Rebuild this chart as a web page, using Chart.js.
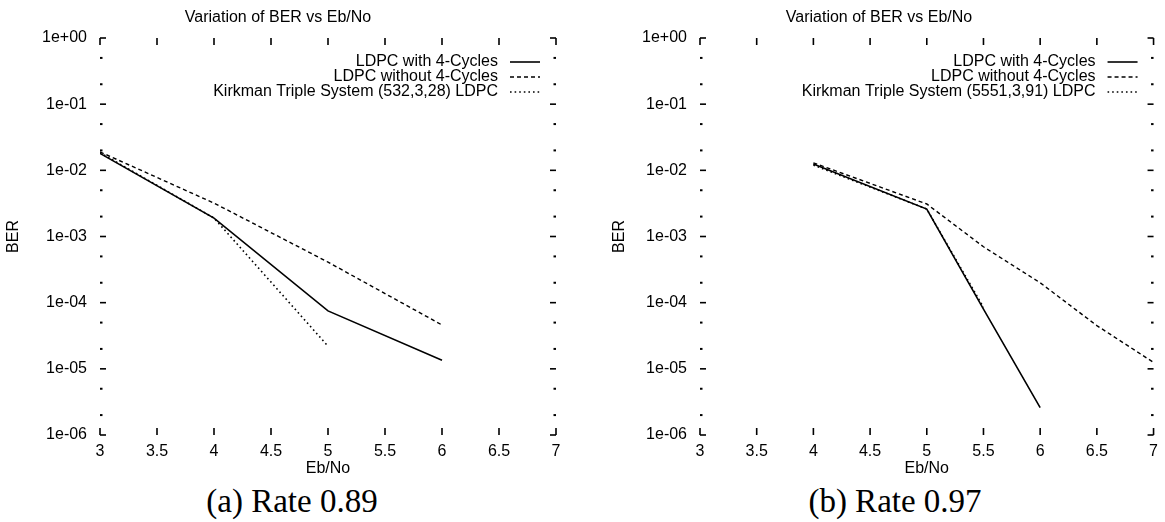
<!DOCTYPE html>
<html><head><meta charset="utf-8">
<script src="https://cdn.jsdelivr.net/npm/chart.js@4.4.0/dist/chart.umd.min.js"></script>
<style>
html,body{margin:0;padding:0;background:#fff;}
body{width:1165px;height:522px;position:relative;overflow:hidden;}
canvas{position:absolute;top:0;}
#cA{left:0;} #cB{left:600px;}
.cap{position:absolute;top:484px;font-family:"Liberation Serif",serif;font-size:33px;line-height:34px;text-align:center;color:#000;white-space:nowrap;}
</style></head><body>
<canvas id="cA" width="582" height="480"></canvas>
<canvas id="cB" width="565" height="480"></canvas>
<div class="cap" style="left:0;width:584px">(a) Rate 0.89</div>
<div class="cap" style="left:620px;width:550px">(b) Rate 0.97</div>
<script>
const chartTitle = 'Variation of BER vs Eb/No';
const xAxisLabel = 'Eb/No';
const yAxisLabel = 'BER';
const withLabel = 'LDPC with 4-Cycles';
const withoutLabel = 'LDPC without 4-Cycles';
const kirkmanLabelA = 'Kirkman Triple System (532,3,28) LDPC';
const kirkmanLabelB = 'Kirkman Triple System (5551,3,91) LDPC';
const yTickValues = [1, 1e-1, 1e-2, 1e-3, 1e-4, 1e-5, 1e-6];
const yMinorMultipliers = [2, 5];
const xMin = 3, xMax = 7, xStep = 0.5;

// (a) Rate 0.89
const ebnoA = [3, 4, 5, 6];
const withCyclesA = [1.8e-2, 1.9e-3, 7.5e-5, 1.35e-5];
const withoutCyclesA = [1.9e-2, 3.2e-3, 4.1e-4, 4.6e-5];
const kirkmanA = [1.85e-2, 1.9e-3, 2.2e-5, null];

// (b) Rate 0.97
const ebnoB = [4, 5, 5.5, 6, 6.5, 7];
const withCyclesB = [1.25e-2, 2.6e-3, 8.0e-5, 2.6e-6, null, null];
const withoutCyclesB = [1.3e-2, 3.1e-3, 7.0e-4, 2.0e-4, 4.5e-5, 1.25e-5];
const kirkmanB = [1.2e-2, 2.6e-3, 8.5e-5, null, null, null];

const FONT = '"Liberation Sans", Arial, sans-serif';

function fmtExp(v) {
  const e = Math.round(Math.log10(v));
  return '1e' + (e < 0 ? '-' : '+') + String(Math.abs(e)).padStart(2, '0');
}
function pts(xs, ys) {
  return xs.map((x, i) => ({x: x, y: ys[i]})).filter(p => p.y !== null);
}

const frameTicks = {
  id: 'frameTicks',
  afterDraw(chart) {
    const {ctx, chartArea: a, scales: {x, y}} = chart;
    ctx.save();
    ctx.strokeStyle = '#000';
    ctx.lineWidth = 1.6;
    const seg = (x1, y1, x2, y2) => { ctx.beginPath(); ctx.moveTo(x1, y1); ctx.lineTo(x2, y2); ctx.stroke(); };
    x.ticks.forEach(t => {
      const p = x.getPixelForValue(t.value);
      seg(p, a.bottom, p, a.bottom - 7);
      seg(p, a.top, p, a.top + 7);
    });
    y.ticks.forEach(t => {
      const p = y.getPixelForValue(t.value);
      seg(a.left, p, a.left + 6, p);
      seg(a.right, p, a.right - 6, p);
    });
    ctx.lineWidth = 2;
    for (let i = 1; i < yTickValues.length; i++) {
      for (const m of yMinorMultipliers) {
        const p = y.getPixelForValue(yTickValues[i] * m);
        seg(a.left, p, a.left + 2.5, p);
        seg(a.right, p, a.right - 2.5, p);
      }
    }
    ctx.restore();
  }
};

const keyPlugin = {
  id: 'keyBox',
  afterDatasetsDraw(chart) {
    const {ctx, chartArea: a} = chart;
    ctx.save();
    ctx.font = '16px ' + FONT;
    ctx.fillStyle = '#000';
    ctx.textAlign = 'right';
    ctx.textBaseline = 'middle';
    chart.data.datasets.forEach((ds, i) => {
      const yy = a.top + 24 + i * 15;
      ctx.fillText(ds.label, a.right - 58, yy);
      ctx.setLineDash(ds.borderDash || []);
      ctx.lineWidth = ds.borderWidth;
      ctx.strokeStyle = ds.borderColor;
      ctx.beginPath(); ctx.moveTo(a.right - 46, yy); ctx.lineTo(a.right - 16, yy); ctx.stroke();
    });
    ctx.restore();
  }
};

function makeChart(id, xs, s1, s2, s3, kLabel, padRight, yTitlePad) {
  return new Chart(document.getElementById(id), {
    type: 'line',
    data: {
      datasets: [
        {label: withLabel, data: pts(xs, s1), borderColor: '#000', borderWidth: 1.6, pointRadius: 0, fill: false},
        {label: withoutLabel, data: pts(xs, s2), borderColor: '#000', borderWidth: 1.4, borderDash: [4, 3], pointRadius: 0, fill: false},
        {label: kLabel, data: pts(xs, s3), borderColor: '#000', borderWidth: 1.6, borderDash: [1.6, 3], pointRadius: 0, fill: false}
      ]
    },
    options: {
      responsive: false,
      animation: false,
      devicePixelRatio: 1,
      events: [],
      layout: {padding: {top: 0, left: 0, bottom: 0, right: padRight}},
      plugins: {
        legend: {display: false},
        tooltip: {enabled: false},
        title: {display: true, text: chartTitle, color: '#000', font: {family: FONT, size: 16, weight: 'normal'}, padding: {top: 8, bottom: 10.8}}
      },
      scales: {
        x: {
          type: 'linear', min: xMin, max: xMax,
          border: {display: false},
          grid: {display: false, drawTicks: false},
          ticks: {stepSize: xStep, color: '#000', font: {family: FONT, size: 16}, padding: 7, maxRotation: 0, callback: v => String(+v)},
          title: {display: true, text: xAxisLabel, color: '#000', font: {family: FONT, size: 16}, padding: {top: 0, bottom: 1.4}},
          afterFit: s => { s.height = 45; }
        },
        y: {
          type: 'logarithmic', min: 1e-6, max: 1,
          border: {display: false},
          grid: {display: false, drawTicks: false},
          afterBuildTicks: s => { s.ticks = yTickValues.map(v => ({value: v})); },
          ticks: {color: '#000', font: {family: FONT, size: 16}, padding: 13, callback: v => fmtExp(v)},
          title: {display: true, text: yAxisLabel, color: '#000', font: {family: FONT, size: 16}, padding: {top: yTitlePad, bottom: 0}},
          afterFit: s => { s.width = 100; }
        }
      }
    },
    plugins: [frameTicks, keyPlugin]
  });
}

makeChart('cA', ebnoA, withCyclesA, withoutCyclesA, kirkmanA, kirkmanLabelA, 26, 3.5);
makeChart('cB', ebnoB, withCyclesB, withoutCyclesB, kirkmanB, kirkmanLabelB, 7, 10);
</script>
</body></html>
